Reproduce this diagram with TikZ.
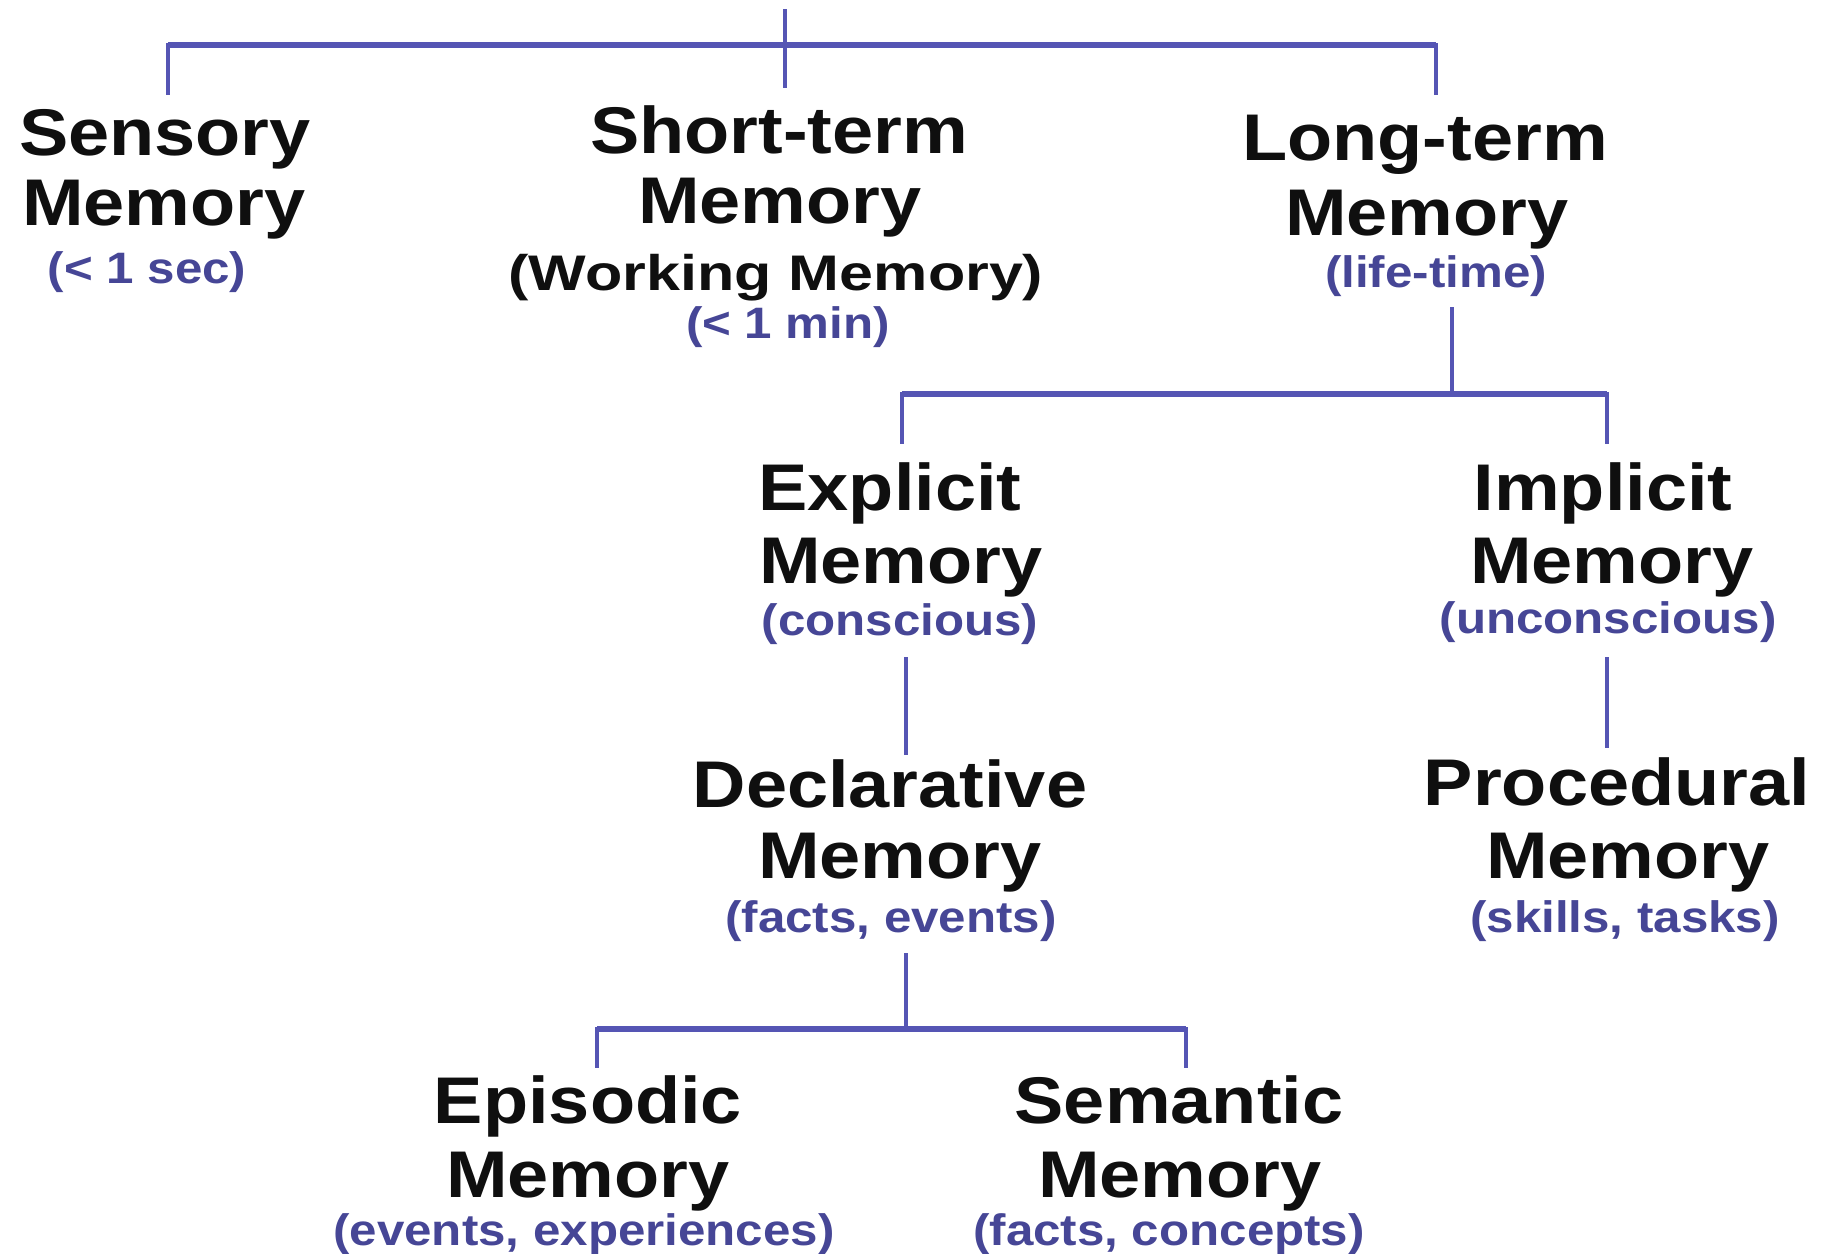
\documentclass[tikz,border=0pt]{standalone}
\usepackage{fontspec}
\setmainfont{Liberation Sans}[FakeStretch=1.12]
\usepackage{graphicx}
\definecolor{linec}{RGB}{85,85,180}
\definecolor{subc}{RGB}{70,70,150}
\definecolor{mainc}{RGB}{15,15,15}
\begin{document}
\begin{tikzpicture}[x=1pt,y=-1pt,
  title/.style={anchor=base,inner sep=0pt,font=\fontsize{66}{73}\selectfont\bfseries,text=mainc},
  sub/.style={anchor=base,inner sep=0pt,font=\fontsize{44}{50}\selectfont\bfseries,text=subc},
  wsub/.style={anchor=base,inner sep=0pt,font=\fontsize{50}{56}\selectfont\bfseries,text=mainc},
  vline/.style={draw=linec,line width=4pt},
  hbar/.style={draw=linec,line width=5.5pt}]
\fill[white] (0,0) rectangle (1833,1253);
\useasboundingbox (0,0) rectangle (1833,1253);

% --- nodes
\node[title] (sens1) at (165,155) {Sensory};
\node[title] (sens2) at (164,225) {Memory};
\node[sub]   (sens3) at (147,283) {(< 1 sec)};

\node[title] (st1) at (779,153) {Short-term};
\node[title] (st2) at (780,223) {Memory};
\node[wsub]  (st3) at (776,290) {\scalebox{1.09}[1]{(Working Memory)}};
\node[sub]   (st4) at (788,338) {(< 1 min)};

\node[title] (lt1) at (1425,160) {Long-term};
\node[title] (lt2) at (1427,235) {Memory};
\node[sub]   (lt3) at (1436,287) {(life-time)};

\node[title] (ex1) at (890,510) {Explicit};
\node[title] (ex2) at (901,583) {Memory};
\node[sub]   (ex3) at (900,635) {(conscious)};

\node[title] (im1) at (1603,510) {Implicit};
\node[title] (im2) at (1612,583) {Memory};
\node[sub]   (im3) at (1608,633) {(unconscious)};

\node[title] (de1) at (890,807) {Declarative};
\node[title] (de2) at (900,878) {Memory};
\node[sub]   (de3) at (891,932) {(facts, events)};

\node[title] (pr1) at (1617,805) {Procedural};
\node[title] (pr2) at (1628,878) {Memory};
\node[sub]   (pr3) at (1625,932) {(skills, tasks)};

\node[title] (ep1) at (588,1123) {Episodic};
\node[title] (ep2) at (588,1197) {Memory};
\node[sub]   (ep3) at (584,1245) {(events, experiences)};

\node[title] (se1) at (1179,1123) {Semantic};
\node[title] (se2) at (1180,1197) {Memory};
\node[sub]   (se3) at (1169,1245) {(facts, concepts)};

% --- connector points
\coordinate (rootTop) at (785,9);
\coordinate (rootBot) at (785,88);
\coordinate (barAL) at (168,45);
\coordinate (barAR) at (1436,45);
\coordinate (sensTop) at (168,95);
\coordinate (ltTop) at (1436,95);
\coordinate (ltBot) at (1452,307);
\coordinate (barBM) at (1452,394);
\coordinate (barBL) at (902,394);
\coordinate (barBR) at (1607,394);
\coordinate (exTop) at (902,444);
\coordinate (imTop) at (1607,444);
\coordinate (exBot) at (906,657);
\coordinate (deTop) at (906,755);
\coordinate (imBot) at (1607,657);
\coordinate (prTop) at (1607,748);
\coordinate (deBot) at (906,953);
\coordinate (barCM) at (906,1029);
\coordinate (barCL) at (597,1029);
\coordinate (barCR) at (1186,1029);
\coordinate (epTop) at (597,1068);
\coordinate (seTop) at (1186,1068);

% --- connectors
\draw[hbar] (barAL) -- (barAR);
\draw[vline] (rootTop) -- (rootBot);
\draw[vline] ([yshift=2pt]barAL) -- (sensTop);
\draw[vline] ([yshift=2pt]barAR) -- (ltTop);

\draw[vline] (ltBot) -- (barBM);
\draw[hbar] (barBL) -- (barBR);
\draw[vline] ([yshift=2pt]barBL) -- (exTop);
\draw[vline] ([yshift=2pt]barBR) -- (imTop);

\draw[vline] (exBot) -- (deTop);
\draw[vline] (imBot) -- (prTop);

\draw[vline] (deBot) -- (barCM);
\draw[hbar] (barCL) -- (barCR);
\draw[vline] ([yshift=2pt]barCL) -- (epTop);
\draw[vline] ([yshift=2pt]barCR) -- (seTop);
\end{tikzpicture}
\end{document}
